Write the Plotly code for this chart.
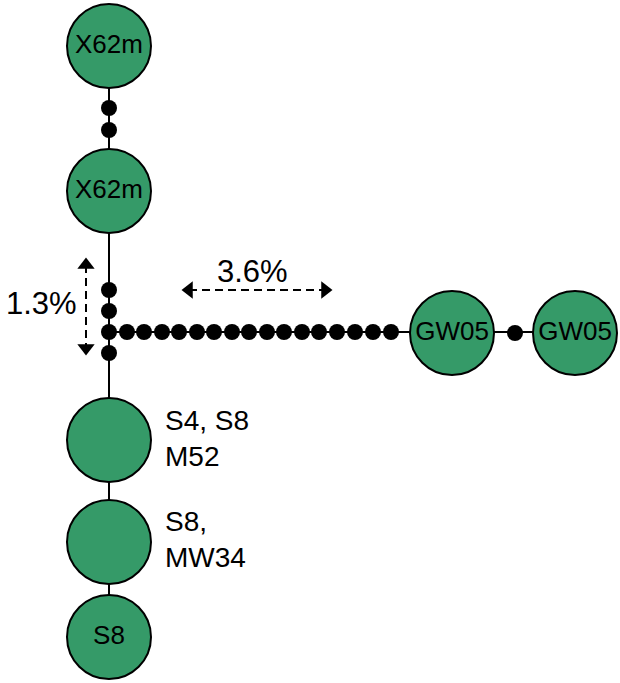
import plotly.graph_objects as go

# Node data (diagram coordinates, pixel-like grid)
node_labels = ["X62m", "X62m", "", "", "S8", "GW05", "GW05"]
node_x = [109, 109, 109, 109, 109, 452, 575]
node_y = [46, 191, 440, 542, 637, 333, 333]

side_labels = ["S4, S8<br>M52", "S8,<br>MW34"]
side_x = [163, 163]
side_y = [438, 539]

# small black dots
dot_x = [109, 109, 109, 109, 109, 109] + [127, 144, 162, 179, 197, 214, 232, 249, 267, 284, 302, 319, 337, 355, 373, 391] + [515]
dot_y = [108, 130, 290, 311, 332, 353] + [332] * 16 + [333]

# Connections
vline_x = [109, 109]
vline_y = [46, 637]
hline_x = [109, 575]
hline_y = [332, 332]

# Percent annotations
pct_labels = ["1.3%", "3.6%"]
harrow_x = [182, 332]
harrow_y = [290, 290]
varrow_x = [86, 86]
varrow_y = [258, 355]

GREEN = "#359A68"
FONT = "Liberation Sans, Arial, sans-serif"

fig = go.Figure()

fig.add_trace(go.Scatter(x=vline_x, y=vline_y, mode="lines",
                         line=dict(color="black", width=2), hoverinfo="skip"))
fig.add_trace(go.Scatter(x=hline_x, y=hline_y, mode="lines",
                         line=dict(color="black", width=2), hoverinfo="skip"))
fig.add_trace(go.Scatter(x=dot_x, y=dot_y, mode="markers",
                         marker=dict(color="black", size=16, line=dict(width=0)),
                         hoverinfo="skip"))
fig.add_trace(go.Scatter(x=node_x, y=node_y, mode="markers+text", text=node_labels,
                         textposition="middle center",
                         textfont=dict(family=FONT, size=26, color="black"),
                         marker=dict(color=GREEN, size=84, line=dict(color="black", width=2)),
                         hoverinfo="skip"))

# dashed arrows
fig.add_trace(go.Scatter(x=[harrow_x[0] + 7, harrow_x[1] - 7], y=harrow_y, mode="lines",
                         line=dict(color="black", width=2, dash="8px,5px"), hoverinfo="skip"))
fig.add_trace(go.Scatter(x=[harrow_x[0] + 7, harrow_x[1] - 7], y=harrow_y, mode="markers",
                         marker=dict(symbol=["triangle-left", "triangle-right"], size=15,
                                     color="black", line=dict(width=0)), hoverinfo="skip"))
fig.add_trace(go.Scatter(x=varrow_x, y=[varrow_y[0] + 7, varrow_y[1] - 7], mode="lines",
                         line=dict(color="black", width=2, dash="8px,5px"), hoverinfo="skip"))
fig.add_trace(go.Scatter(x=varrow_x, y=[varrow_y[0] + 7, varrow_y[1] - 7], mode="markers",
                         marker=dict(symbol=["triangle-up", "triangle-down"], size=15,
                                     color="black", line=dict(width=0)), hoverinfo="skip"))

annotations = []
for t, x, y in zip(side_labels, side_x, side_y):
    annotations.append(dict(x=x, y=y, text=t, showarrow=False, xanchor="left", yanchor="middle",
                            align="left", font=dict(family=FONT, size=28, color="black")))
annotations.append(dict(x=79, y=303, text=pct_labels[0], showarrow=False, xanchor="right",
                        yanchor="middle", font=dict(family=FONT, size=31, color="black")))
annotations.append(dict(x=252, y=271, text=pct_labels[1], showarrow=False, xanchor="center",
                        yanchor="middle", font=dict(family=FONT, size=31, color="black")))

fig.update_layout(
    width=620, height=683, margin=dict(l=0, r=0, t=0, b=0),
    paper_bgcolor="white", plot_bgcolor="white", showlegend=False,
    xaxis=dict(range=[0, 620], visible=False, fixedrange=True),
    yaxis=dict(range=[683, 0], visible=False, fixedrange=True),
    annotations=annotations,
)

fig.write_html("out.html", config={"displayModeBar": False},
               post_script="document.body.style.margin='0';document.body.style.overflow='hidden';")
